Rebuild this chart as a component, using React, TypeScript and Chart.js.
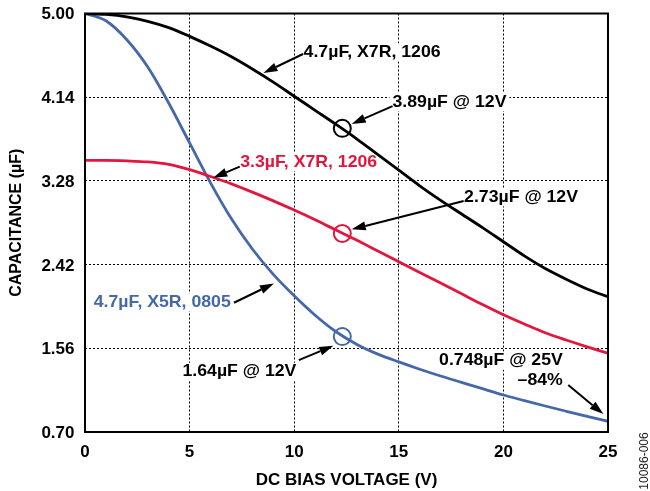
import React, { useEffect, useRef } from 'react';
import { Chart, registerables } from 'chart.js';

Chart.register(...registerables);

const FONT = "'Liberation Sans', Arial, Helvetica, sans-serif";
const BLACK = '#000000';
const RED = '#E3173E';
const BLUE = '#4468A8';

// DC bias voltage (V)
const voltages = [0, 1, 2, 3, 4, 5, 6, 7, 8, 9, 10, 11, 12, 13, 14, 15, 16, 17, 18, 19, 20, 21, 22, 23, 24, 25];
// 4.7µF, X7R, 1206 (black)
const capX7R1206_47 = [5.0, 4.99, 4.965, 4.92, 4.855, 4.765, 4.665, 4.555, 4.43, 4.295, 4.15, 4.005, 3.86, 3.71, 3.55, 3.39, 3.23, 3.08, 2.94, 2.80, 2.655, 2.51, 2.38, 2.27, 2.17, 2.09];
// 3.3µF, X7R, 1206 (red)
const capX7R1206_33 = [3.49, 3.49, 3.485, 3.475, 3.45, 3.395, 3.325, 3.25, 3.165, 3.075, 2.98, 2.88, 2.775, 2.67, 2.56, 2.45, 2.34, 2.23, 2.12, 2.01, 1.905, 1.81, 1.72, 1.645, 1.575, 1.51];
// 4.7µF, X5R, 0805 (blue)
const capX5R0805_47 = [5.0, 4.925, 4.73, 4.45, 4.08, 3.67, 3.26, 2.89, 2.58, 2.32, 2.10, 1.90, 1.73, 1.60, 1.50, 1.42, 1.345, 1.275, 1.21, 1.145, 1.08, 1.023, 0.967, 0.913, 0.86, 0.81];

// circled points near 12V
const markerVoltage = 12.3;
const markerValues = [3.82, 2.74, 1.68];
const markerColors = [BLACK, RED, BLUE];

const xTicks = [0, 5, 10, 15, 20, 25];
const yTicks = [0.7, 1.56, 2.42, 3.28, 4.14, 5.0];

type Note = {
  lines: string[];
  color: string;
  x: number;
  y: number[];
  align: 'left' | 'right';
  from: [number, number];
  to: [number, number];
};

const notes: Note[] = [
  { lines: ['4.7µF, X7R, 1206'], color: BLACK, x: 10.45, y: [4.6], align: 'left', from: [10.42, 4.584], to: [8.53, 4.388] },
  { lines: ['3.89µF @ 12V'], color: BLACK, x: 14.7, y: [4.09], align: 'left', from: [14.7, 4.049], to: [12.75, 3.864] },
  { lines: ['3.3µF, X7R, 1206'], color: RED, x: 7.42, y: [3.474], align: 'left', from: [7.4, 3.426], to: [6.13, 3.312] },
  { lines: ['2.73µF @ 12V'], color: BLACK, x: 18.12, y: [3.111], align: 'left', from: [18.1, 3.073], to: [12.75, 2.782] },
  { lines: ['4.7µF, X5R, 0805'], color: BLUE, x: 0.42, y: [2.032], align: 'left', from: [7.12, 2.028], to: [9.03, 2.227] },
  { lines: ['1.64µF @ 12V'], color: BLACK, x: 4.66, y: [1.319], align: 'left', from: [10.22, 1.439], to: [11.87, 1.586] },
  { lines: ['0.748µF @ 25V', '\u201384%'], color: BLACK, x: 22.84, y: [1.432, 1.233], align: 'right', from: [23.1, 1.182], to: [24.78, 0.884] },
];

const NOTE_FONT = `bold 17px ${FONT}`;
const NOTE_STRETCH = 1.04;

function drawArrow(ctx: CanvasRenderingContext2D, x1: number, y1: number, x2: number, y2: number) {
  const ang = Math.atan2(y2 - y1, x2 - x1);
  const L = 14;
  const W = 4.5;
  const bx = x2 - L * Math.cos(ang);
  const by = y2 - L * Math.sin(ang);
  ctx.save();
  ctx.setLineDash([]);
  ctx.strokeStyle = '#000';
  ctx.fillStyle = '#000';
  ctx.lineWidth = 2;
  ctx.beginPath();
  ctx.moveTo(x1, y1);
  ctx.lineTo(bx, by);
  ctx.stroke();
  ctx.beginPath();
  ctx.moveTo(x2, y2);
  ctx.lineTo(bx + W * Math.sin(ang), by - W * Math.cos(ang));
  ctx.lineTo(bx - W * Math.sin(ang), by + W * Math.cos(ang));
  ctx.closePath();
  ctx.fill();
  ctx.restore();
}

const overlayPlugin = {
  id: 'overlay',
  beforeDatasetsDraw(chart: any) {
    const ctx: CanvasRenderingContext2D = chart.ctx;
    const xs = chart.scales.x;
    const ys = chart.scales.y;
    ctx.save();
    ctx.font = NOTE_FONT;
    ctx.fillStyle = '#ffffff';
    notes.forEach((n) => {
      n.lines.forEach((line, i) => {
        const w = ctx.measureText(line).width * NOTE_STRETCH;
        const px = xs.getPixelForValue(n.x);
        const py = ys.getPixelForValue(n.y[i]);
        const left = n.align === 'left' ? px : px - w;
        ctx.fillRect(left - 3, py - 9, w + 6, 18);
      });
    });
    ctx.restore();
  },
  afterDraw(chart: any) {
    const ctx: CanvasRenderingContext2D = chart.ctx;
    const xs = chart.scales.x;
    const ys = chart.scales.y;
    const a = chart.chartArea;
    ctx.save();
    // plot frame
    ctx.setLineDash([]);
    ctx.globalAlpha = 1;
    ctx.strokeStyle = '#000000';
    ctx.lineWidth = 2;
    ctx.beginPath();
    ctx.rect(a.left, a.top, a.right - a.left, a.bottom - a.top);
    ctx.stroke();
    // arrows
    notes.forEach((n) => {
      drawArrow(
        ctx,
        xs.getPixelForValue(n.from[0]),
        ys.getPixelForValue(n.from[1]),
        xs.getPixelForValue(n.to[0]),
        ys.getPixelForValue(n.to[1])
      );
    });
    // texts
    ctx.font = NOTE_FONT;
    ctx.textBaseline = 'middle';
    notes.forEach((n) => {
      ctx.fillStyle = n.color;
      ctx.textAlign = n.align;
      n.lines.forEach((line, i) => {
        ctx.save();
        ctx.translate(xs.getPixelForValue(n.x), ys.getPixelForValue(n.y[i]));
        ctx.scale(NOTE_STRETCH, 1);
        ctx.fillText(line, 0, 0);
        ctx.restore();
      });
    });
    // figure id
    ctx.translate(645, 461);
    ctx.rotate(-Math.PI / 2);
    ctx.font = `12px ${FONT}`;
    ctx.fillStyle = '#222';
    ctx.textAlign = 'center';
    ctx.textBaseline = 'middle';
    ctx.fillText('10086-006', 0, 0);
    ctx.restore();
  },
};

export default function App() {
  const canvasRef = useRef<HTMLCanvasElement | null>(null);

  useEffect(() => {
    if (!canvasRef.current) return;
    const toPts = (vals: number[]) => voltages.map((v, i) => ({ x: v, y: vals[i] }));
    const lineDs = (label: string, vals: number[], color: string) => ({
      label,
      data: toPts(vals),
      borderColor: color,
      backgroundColor: color,
      borderWidth: 2.8,
      pointRadius: 0,
      cubicInterpolationMode: 'monotone' as const,
      fill: false,
    });

    const chart = new Chart(canvasRef.current, {
      type: 'line',
      data: {
        datasets: [
          lineDs('4.7µF, X7R, 1206', capX7R1206_47, BLACK),
          lineDs('3.3µF, X7R, 1206', capX7R1206_33, RED),
          lineDs('4.7µF, X5R, 0805', capX5R0805_47, BLUE),
          {
            label: 'markers',
            data: markerValues.map((v) => ({ x: markerVoltage, y: v })),
            showLine: false,
            pointRadius: 8.5,
            pointBorderWidth: 2,
            pointBorderColor: markerColors,
            pointBackgroundColor: 'rgba(0,0,0,0)',
            borderColor: 'rgba(0,0,0,0)',
          } as any,
        ],
      },
      options: {
        animation: false,
        responsive: true,
        maintainAspectRatio: false,
        layout: { padding: { left: 0, top: 13.5, right: 42, bottom: 0 } },
        plugins: {
          legend: { display: false },
          tooltip: { enabled: false },
        },
        scales: {
          x: {
            type: 'linear',
            min: 0,
            max: 25,
            afterBuildTicks: (s: any) => {
              s.ticks = xTicks.map((v) => ({ value: v }));
            },
            afterFit: (s: any) => {
              s.height = 59;
              s.paddingLeft = 0;
              s.paddingRight = 0;
            },
            ticks: {
              color: '#000',
              font: { family: FONT, size: 17, weight: 'bold' },
              padding: 10,
              maxRotation: 0,
              autoSkip: false,
              callback: (v: any) => String(v),
            },
            grid: { color: '#000', lineWidth: 1, drawTicks: false },
            border: { display: false, dash: [2, 2] },
            title: {
              display: true,
              text: 'DC BIAS VOLTAGE (V)',
              color: '#000',
              font: { family: FONT, size: 17, weight: 'bold' },
              padding: { top: 0, bottom: 0 },
            },
          },
          y: {
            type: 'linear',
            min: 0.7,
            max: 5.0,
            afterBuildTicks: (s: any) => {
              s.ticks = yTicks.map((v) => ({ value: v }));
            },
            afterFit: (s: any) => {
              s.width = 85;
              s.paddingTop = 0;
              s.paddingBottom = 0;
            },
            ticks: {
              color: '#000',
              font: { family: FONT, size: 17, weight: 'bold' },
              padding: 10.5,
              labelOffset: 1.3,
              autoSkip: false,
              callback: (v: any) => Number(v).toFixed(2),
            },
            grid: { color: '#000', lineWidth: 1, drawTicks: false },
            border: { display: false, dash: [2, 2] },
            title: {
              display: true,
              text: 'CAPACITANCE (µF)',
              color: '#000',
              font: { family: FONT, size: 16, weight: 'bold' },
              padding: { top: 7, bottom: 0 },
            },
          },
        },
      },
      plugins: [overlayPlugin],
    });
    return () => chart.destroy();
  }, []);

  return (
    <div style={{ position: 'absolute', left: 0, top: 0, width: 650, height: 491, background: '#fff' }}>
      <canvas ref={canvasRef} />
    </div>
  );
}
